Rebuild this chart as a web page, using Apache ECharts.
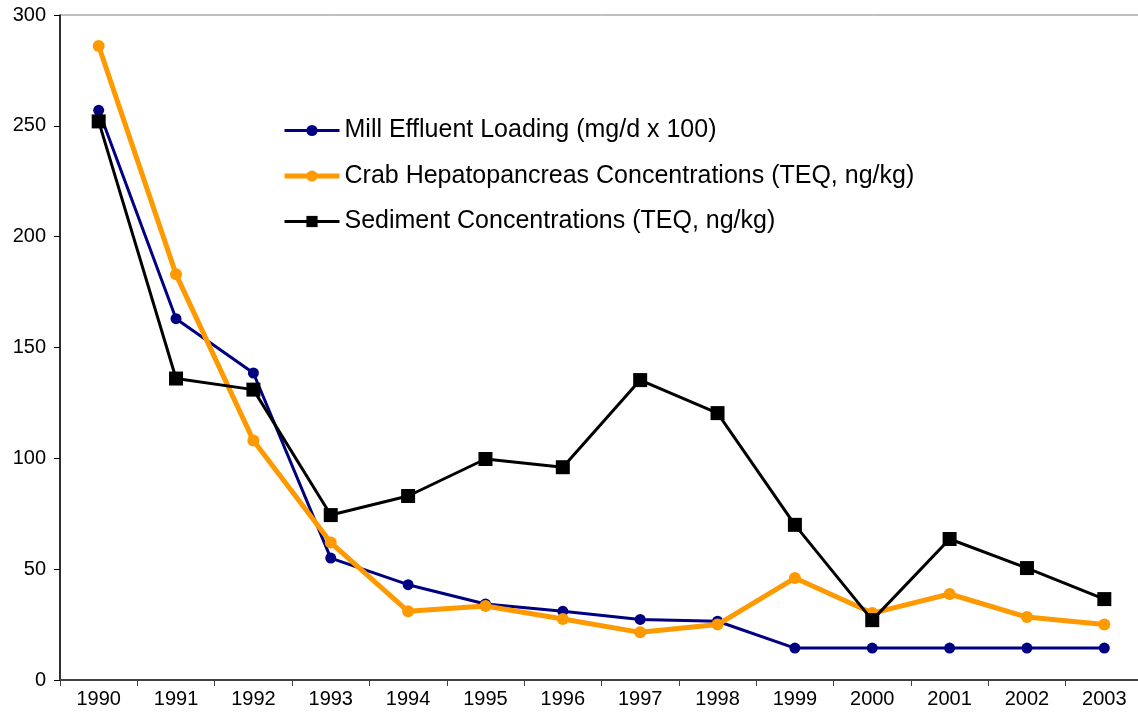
<!DOCTYPE html>
<html>
<head>
<meta charset="utf-8">
<script src="https://cdn.jsdelivr.net/npm/echarts@6/dist/echarts.min.js"></script>
<style>
  html, body { margin: 0; padding: 0; background: #fff; overflow: hidden; }
  #main { width: 1144px; height: 719px; }
</style>
</head>
<body>
<div id="main"></div>
<script>
var years = ["1990", "1991", "1992", "1993", "1994", "1995", "1996", "1997", "1998", "1999", "2000", "2001", "2002", "2003"];
var millLoading = [257, 163, 138.5, 55, 43, 34.3, 31, 27.3, 26.5, 14.4, 14.4, 14.4, 14.4, 14.4];
var crabConc = [286, 183, 108, 62, 31, 33.4, 27.5, 21.5, 25, 46, 30.2, 38.8, 28.4, 25];
var sedimentConc = [252, 136, 131, 74.4, 83, 99.7, 96, 135.3, 120.4, 70, 27, 63.6, 50.5, 36.5];
var yTicks = [0, 50, 100, 150, 200, 250, 300];

var font = "'Liberation Sans', Arial, sans-serif";
var myChart = echarts.init(document.getElementById("main"));
myChart.setOption({
  animation: false,
  grid: {
    left: 60, top: 15, right: 1, bottom: 39,
    show: true, borderColor: "#808080", borderWidth: 1
  },
  legend: {
    orient: "vertical",
    left: 282, top: 118,
    padding: 0,
    itemWidth: 55, itemHeight: 14, itemGap: 20.5,
    textStyle: { fontFamily: font, fontSize: 25, color: "#000" },
    data: [
      { name: "Mill Effluent Loading (mg/d x 100)", lineStyle: { width: 3 } },
      { name: "Crab Hepatopancreas Concentrations (TEQ, ng/kg)", lineStyle: { width: 5 } },
      { name: "Sediment Concentrations (TEQ, ng/kg)", lineStyle: { width: 3 } }
    ]
  },
  xAxis: {
    type: "category",
    data: years,
    boundaryGap: true,
    axisLine: { lineStyle: { color: "#404040", width: 2 } },
    axisTick: { show: true, length: 6, lineStyle: { color: "#404040" } },
    axisLabel: { fontFamily: font, fontSize: 20, color: "#000", margin: 9 }
  },
  yAxis: {
    type: "value",
    min: yTicks[0], max: yTicks[yTicks.length - 1], interval: 50,
    axisLine: { show: true, lineStyle: { color: "#000", width: 1.5 } },
    axisTick: { show: true, length: 6, lineStyle: { color: "#000" } },
    splitLine: { show: false },
    axisLabel: { fontFamily: font, fontSize: 20, color: "#000", margin: 14 }
  },
  series: [
    {
      name: "Mill Effluent Loading (mg/d x 100)",
      type: "line",
      data: millLoading,
      symbol: "circle", symbolSize: 11,
      lineStyle: { color: "#000080", width: 3 },
      itemStyle: { color: "#000080" },
      z: 3
    },
    {
      name: "Crab Hepatopancreas Concentrations (TEQ, ng/kg)",
      type: "line",
      data: crabConc,
      symbol: "circle", symbolSize: 12,
      lineStyle: { color: "#FF9900", width: 5 },
      itemStyle: { color: "#FF9900" },
      z: 4
    },
    {
      name: "Sediment Concentrations (TEQ, ng/kg)",
      type: "line",
      data: sedimentConc,
      symbol: "rect", symbolSize: 14,
      lineStyle: { color: "#000", width: 3 },
      itemStyle: { color: "#000" },
      z: 5
    }
  ]
});
</script>
</body>
</html>
